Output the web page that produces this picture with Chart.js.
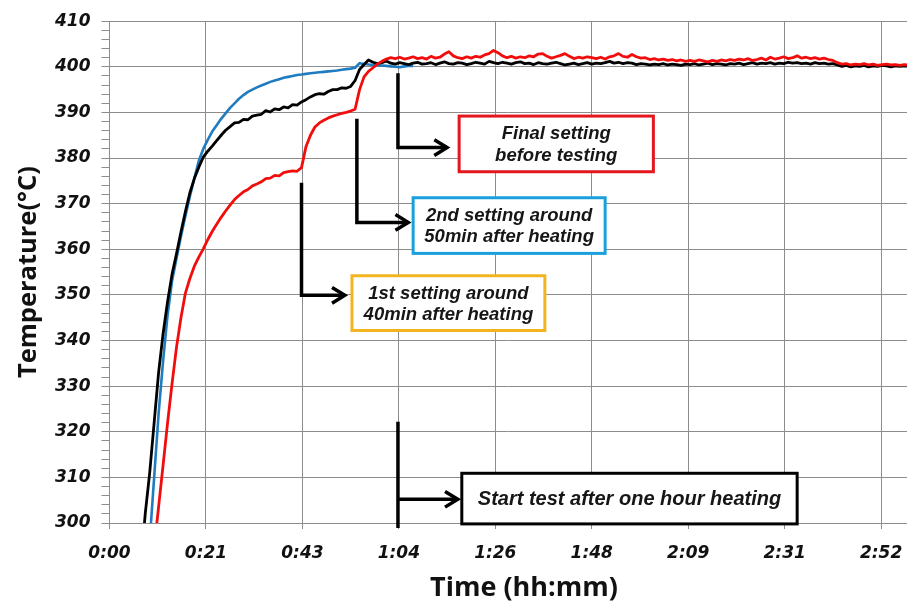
<!DOCTYPE html>
<html>
<head>
<meta charset="utf-8">
<script src="https://cdn.jsdelivr.net/npm/chart.js@4.4.1/dist/chart.umd.min.js"></script>
<style>
  html, body { margin: 0; padding: 0; background: #fff; }
  #wrap { width: 907px; height: 607px; position: relative; }
</style>
</head>
<body>
<div id="wrap"><canvas id="chart"></canvas></div>
<script>
// Eixo X em minutos (ticks do Excel a cada 0,015 dia = 21,6 min)
const timeTicks = [0, 21.6, 43.2, 64.8, 86.4, 108, 129.6, 151.2, 172.8];
const timeLabels = ['0:00', '0:21', '0:43', '1:04', '1:26', '1:48', '2:09', '2:31', '2:52'];
const tempLabels = [300, 310, 320, 330, 340, 350, 360, 370, 380, 390, 400, 410];

// leituras a cada minuto, a partir do minuto indicado
const blueStart = 9;
const blueTemps = [
  296, 310, 324, 335.5, 345.5, 353, 358, 362.8, 367.3, 371.6,
  375.6, 379.4, 382, 384, 385.8, 387.2, 388.6, 389.8, 391, 392,
  393, 393.8, 394.5, 395, 395.5, 395.9, 396.3, 396.7, 397, 397.3,
  397.6, 397.8, 398, 398.2, 398.3, 398.45, 398.6, 398.7, 398.8, 398.9,
  399, 399.1, 399.2, 399.35, 399.5, 399.6, 399.8, 400.8, 400.6, 400.5,
  400.4, 400.3, 400.3, 400.2, 400.1, 400.0, 399.9, 400.1, 400.2, 400.2
];

const blackStart = 7;
const blackTemps = [
  290, 302, 311, 322, 333, 341.5, 348.5, 354.5, 359, 363.8,
  368.3, 372.4, 375.5, 378, 380.2, 381.5, 382.6, 383.8, 385, 386.1,
  386.9, 387.7, 387.8, 388.5, 388.4, 389.2, 389.4, 389.6, 390.4, 390.1,
  390.8, 390.6, 391.2, 391.0, 391.7, 391.6, 392.3, 392.8, 393.4, 393.9,
  394.1, 394.0, 394.6, 395.0, 395.0, 395.4, 395.3, 395.7, 397.0, 399.4,
  400.5, 401.5, 401.0, 400.7, 400.9, 401.3,
  400.8, 400.6, 400.9, 400.7, 400.5, 400.8, 401.0, 400.6, 400.7, 400.9,
  400.5, 400.8, 401.1, 400.7, 400.6, 400.9, 400.8, 400.5, 400.7, 401.0,
  400.8, 400.6, 401.2, 400.9, 400.7, 401.0, 400.8, 400.6, 400.9, 401.1,
  400.7, 400.8, 400.5, 400.9, 400.7, 400.6, 400.8, 401.0, 400.7, 400.4,
  400.6, 400.8, 400.5, 400.7, 400.9, 400.6, 400.8, 400.7, 400.9, 401.2,
  400.8, 401.0, 400.7, 400.9, 400.8, 400.5, 400.7, 400.6, 400.4, 400.6,
  400.5, 400.7, 400.4, 400.6, 400.5, 400.3, 400.6, 400.5, 400.7, 400.4,
  400.6, 400.8, 400.5, 400.7, 400.6, 400.4, 400.7, 400.6, 400.8, 400.5,
  400.7, 400.9, 400.6, 400.8, 400.7, 400.9, 400.6, 400.8, 400.7, 401.0,
  400.8, 400.9, 400.7, 400.8, 400.6, 400.9, 400.7, 400.8, 400.6, 400.7,
  400.4, 400.1, 400.3, 400.0, 400.2, 400.1, 400.3, 400.0, 400.2, 400.1,
  400.3, 400.2, 400.0, 400.2, 400.1, 400.2, 400.1
];

const redStart = 10;
const redTemps = [
  294.5, 303.6, 312.7, 321.9, 330.5, 338.5, 345, 350.4, 353.6, 356.3,
  358.3, 360.1, 362.1, 363.9, 365.5, 367.0, 368.4, 369.7, 370.9, 371.8,
  372.6, 373.1, 373.9, 374.3, 374.8, 375.5, 375.6, 376.2, 376.1, 376.8,
  377.0, 377.2, 377.1, 377.9, 382.5, 385.0, 386.8, 387.7, 388.3, 388.8,
  389.2, 389.5, 389.8, 390.0, 390.3, 390.7, 395.0, 397.8, 399.0, 399.8,
  400.6, 401.2, 401.7,
  402.0, 401.8, 402.1, 401.7, 401.9, 402.2, 401.8, 402.0, 401.7, 402.3,
  401.9, 402.1, 402.8, 403.3, 402.4, 402.0, 401.8, 402.2, 401.9, 402.3,
  402.1, 402.6, 402.9, 403.6, 403.1, 402.4, 402.0, 402.3, 401.9, 402.2,
  402.0, 402.4, 402.2, 402.8, 402.9, 402.3, 401.9, 402.2, 402.5, 402.9,
  402.3, 401.8, 402.1, 401.9, 402.2, 402.0, 401.8, 402.1, 401.7, 402.2,
  402.4, 402.9, 402.3, 402.1, 402.7, 402.2, 401.9, 402.0, 401.6, 401.8,
  401.5, 401.7, 401.4, 401.6, 401.3, 401.5, 401.2, 401.4, 401.2, 401.5,
  401.3, 401.1, 401.4, 401.2, 401.5, 401.3, 401.6, 401.4, 401.7, 401.5,
  401.8, 401.4, 401.6, 401.9, 401.5, 402.1, 401.7, 401.9, 402.2, 401.8,
  402.0, 402.4, 401.9, 402.1, 401.8, 402.0, 401.7, 401.9, 401.6, 401.4,
  400.9, 400.6, 400.7, 400.4, 400.6, 400.5, 400.7, 400.4, 400.6, 400.3,
  400.5, 400.6, 400.4, 400.5, 400.3, 400.5, 400.4
];

const gridGray = '#8c8c8c';

function toPoints(start, temps) {
  return temps.map((v, i) => ({ x: start + i, y: v }));
}

// caixas de anotação e setas (coordenadas em minutos / °C)
const notes = [
  { lines: ['Final setting', 'before testing'], border: '#e3171d', size: 18.5,
    box: [78.3, 121.8, 389.2, 377.0], path: [[64.6, 398.6], [64.6, 382.3], [75.6, 382.3]] },
  { lines: ['2nd setting around', '50min after heating'], border: '#1ba0de', size: 18.5,
    box: [68.0, 111.0, 371.3, 359.1], path: [[55.4, 388.6], [55.4, 365.9], [66.9, 365.9]] },
  { lines: ['1st setting around', '40min after heating'], border: '#f2b41f', size: 18.5,
    box: [54.3, 97.5, 354.2, 342.2], path: [[43.0, 374.6], [43.0, 349.9], [52.7, 349.9]] },
  { lines: ['Start test after one hour heating'], border: '#000000', size: 20,
    box: [78.9, 154.0, 310.9, 299.8], path: [[64.6, 322.2], [64.6, 298.9]], arrow: [[64.6, 305.2], [78.0, 305.2]] }
];

function strokeArrow(ctx, pts) {
  ctx.beginPath();
  ctx.moveTo(pts[0][0], pts[0][1]);
  for (let i = 1; i < pts.length; i++) ctx.lineTo(pts[i][0], pts[i][1]);
  ctx.stroke();
  const [x1, y1] = pts[pts.length - 2];
  const [x2, y2] = pts[pts.length - 1];
  const ang = Math.atan2(y2 - y1, x2 - x1);
  const len = 15, spread = 0.55;
  ctx.beginPath();
  ctx.moveTo(x2 - len * Math.cos(ang - spread), y2 - len * Math.sin(ang - spread));
  ctx.lineTo(x2, y2);
  ctx.lineTo(x2 - len * Math.cos(ang + spread), y2 - len * Math.sin(ang + spread));
  ctx.stroke();
}

const notesPlugin = {
  id: 'notes',
  afterDatasetsDraw(chart) {
    const { ctx, scales: { x, y } } = chart;
    const px = p => [x.getPixelForValue(p[0]), y.getPixelForValue(p[1])];
    ctx.save();
    ctx.strokeStyle = '#000';
    ctx.lineWidth = 3.5;
    ctx.lineJoin = 'miter';
    notes.forEach(n => {
      const path = n.path.map(px);
      if (n.arrow) {
        ctx.beginPath();
        ctx.moveTo(path[0][0], path[0][1]);
        ctx.lineTo(path[1][0], path[1][1]);
        ctx.stroke();
        strokeArrow(ctx, n.arrow.map(px));
      } else {
        strokeArrow(ctx, path);
      }
      const [l, t] = px([n.box[0], n.box[2]]);
      const [r, b] = px([n.box[1], n.box[3]]);
      ctx.fillStyle = '#fff';
      ctx.fillRect(l, t, r - l, b - t);
      ctx.save();
      ctx.strokeStyle = n.border;
      ctx.lineWidth = 3;
      ctx.strokeRect(l, t, r - l, b - t);
      ctx.restore();
      ctx.fillStyle = '#161616';
      ctx.font = `italic bold ${n.size}px "Liberation Sans", Arial, sans-serif`;
      ctx.textAlign = 'center';
      ctx.textBaseline = 'middle';
      const gap = n.size * 1.15;
      const cy = (t + b) / 2 - gap * (n.lines.length - 1) / 2;
      n.lines.forEach((s, i) => ctx.fillText(s, (l + r) / 2, cy + i * gap + 1));
    });
    ctx.restore();
  }
};

const tickFont = { family: '"DejaVu Sans", sans-serif', size: 17, weight: 'bold', style: 'italic' };
const xTitleFont = { family: '"Open Sans", Lato, sans-serif', size: 27, weight: 'bold' };
const yTitleFont = { family: '"Open Sans", Lato, sans-serif', size: 25.5, weight: 'bold' };

new Chart(document.getElementById('chart'), {
  type: 'line',
  data: {
    datasets: [
      { label: 'Red', data: toPoints(redStart, redTemps), borderColor: '#f20d0d', borderWidth: 2.8 },
      { label: 'Black', data: toPoints(blackStart, blackTemps), borderColor: '#000000', borderWidth: 2.8 },
      { label: 'Blue', data: toPoints(blueStart, blueTemps), borderColor: '#1f7cc1', borderWidth: 2.6 }
    ]
  },
  options: {
    responsive: true,
    maintainAspectRatio: false,
    animation: false,
    devicePixelRatio: 1,
    layout: { padding: { top: 20, right: 0, bottom: 0, left: 0 } },
    elements: { point: { radius: 0 }, line: { tension: 0, borderJoinStyle: 'round' } },
    plugins: { legend: { display: false }, tooltip: { enabled: false } },
    scales: {
      x: {
        type: 'linear',
        min: 0,
        max: 178.6,
        afterBuildTicks: s => { s.ticks = timeTicks.map(v => ({ value: v })); },
        afterFit: s => { s.height = 84; s.paddingLeft = 0; s.paddingRight = 0; },
        ticks: { callback: (v, i) => timeLabels[i], color: '#111', font: tickFont, padding: 14, maxRotation: 0, autoSkip: false },
        grid: { color: gridGray, tickLength: 6 },
        border: { color: gridGray },
        // espaço inicial empurra o título um pouco para a direita, como no original
        title: { display: true, text: '\u2003\u2009Time (hh:mm)', color: '#111', font: xTitleFont, padding: { top: 0, bottom: 2 } }
      },
      y: {
        type: 'linear',
        min: 300,
        max: 410,
        afterFit: s => { s.width = 109.5; },
        ticks: {
          stepSize: 2, autoSkip: false, color: '#111', font: tickFont, padding: 11,
          callback: v => tempLabels.includes(v) ? String(v) : ''
        },
        grid: {
          color: c => (c.tick && tempLabels.includes(c.tick.value)) ? gridGray : 'rgba(0,0,0,0)',
          tickColor: gridGray,
          tickLength: 8
        },
        border: { color: gridGray },
        title: { display: true, text: 'Temperature(°C)', color: '#111', font: yTitleFont, padding: { top: 13, bottom: 0 } }
      }
    }
  },
  plugins: [notesPlugin]
});
</script>
</body>
</html>
